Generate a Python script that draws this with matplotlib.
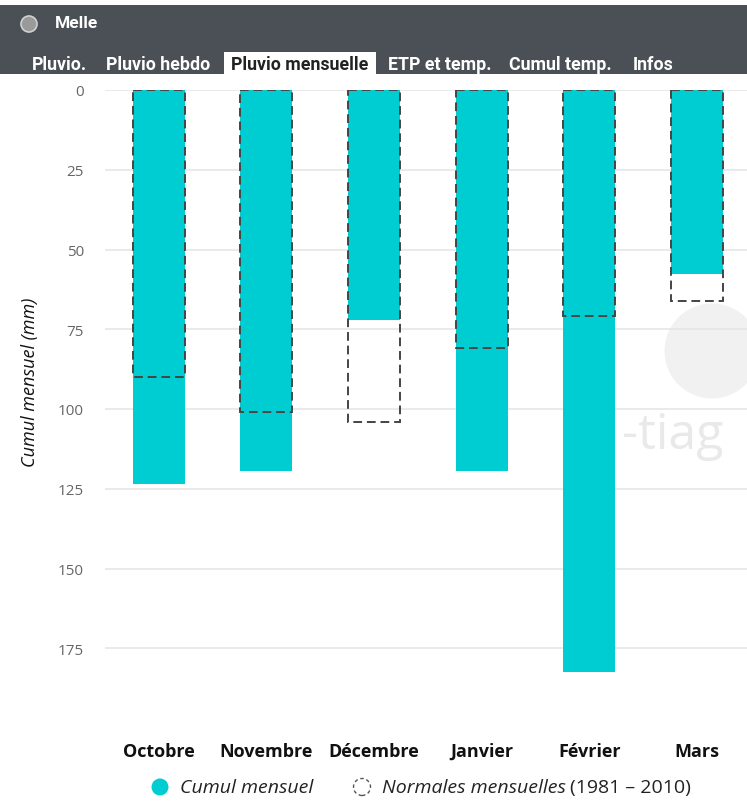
import matplotlib
matplotlib.use("Agg")
import matplotlib.pyplot as plt
from matplotlib.patches import Rectangle, Ellipse
from matplotlib import font_manager as fm

months = ["Octobre", "Novembre", "Décembre", "Janvier", "Février", "Mars"]
cumul = [123.5, 119.3, 72.0, 119.5, 182.5, 57.8]
normales = [90.0, 101.0, 104.0, 81.0, 71.0, 66.0]
yticks = [0, 25, 50, 75, 100, 125, 150, 175]
tabs = ["Pluvio.", "Pluvio hebdo", "Pluvio mensuelle", "ETP et temp.", "Cumul temp.", "Infos"]
tab_x = [32, 106, 231, 388, 509, 633]

W, H = 747, 803
fig = plt.figure(figsize=(W / 100, H / 100), dpi=100)
plt.rcParams['font.family'] = ['Open Sans', 'DejaVu Sans']

names = {f.name for f in fm.fontManager.ttflist}
cond = 'Liberation Sans Narrow' if 'Liberation Sans Narrow' in names else 'Roboto'

def fx(px):
    return px / W

def fy(py):
    return 1 - py / H

def pt(px):
    return px * 72 / 100

# header
fig.add_artist(Rectangle((0, fy(75)), 1, (75 - 6) / H, transform=fig.transFigure,
                         facecolor="#4b5056", edgecolor="none"))
fig.add_artist(Rectangle((fx(224), fy(76)), (376 - 224) / W, (76 - 53) / H,
                         transform=fig.transFigure, facecolor="white", edgecolor="none"))
fig.add_artist(Ellipse((fx(29), fy(25)), 16 / W, 16 / H, transform=fig.transFigure,
                       facecolor="#9a9a9a", edgecolor="#d0d0d0", lw=1.2))
fig.text(fx(55), fy(24), "Melle", color="white", fontsize=12.5, fontweight="bold",
         family=cond, va="center", ha="left")
for t, x in zip(tabs, tab_x):
    col = "#222222" if t == "Pluvio mensuelle" else "white"
    fig.text(fx(x), fy(65), t, color=col, fontsize=12.8, fontweight="bold",
             family=cond, va="center", ha="left")

# axes
x0, x1 = 105, 747
ytop = 91
ymax = 192
ybot = ytop + ymax * 3.19
ax = fig.add_axes([fx(x0), fy(ybot), (x1 - x0) / W, (ybot - ytop) / H])
ax.patch.set_alpha(0)
spacing = 107.6
right_lim = -0.5 + (x1 - x0) / spacing
ax.set_xlim(-0.5, right_lim)
ax.set_ylim(ymax, 0)

# watermark (behind the bars)
wm_axes = fig.add_axes([0, 0, 1, 1], zorder=-1)
wm_axes.set_xlim(0, W)
wm_axes.set_ylim(H, 0)
wm_axes.axis("off")
wm_axes.add_patch(Ellipse((712, 352), 95, 95, facecolor="#f1f1f1", edgecolor="none"))
wm_axes.text(622, 436, "-tiag", color="#e9e9e9", fontsize=36, va="center", ha="left")

xs = list(range(len(months)))
bw = 0.485
ax.bar(xs, cumul, width=bw, color="#00cdd2", zorder=2)
for x, n in zip(xs, normales):
    ax.add_patch(Rectangle((x - bw / 2, 0), bw, n, fill=False, edgecolor="#444444",
                           lw=1.4, linestyle=(0, (4.5, 2.5)), zorder=3))

ax.set_yticks(yticks)
ax.set_yticklabels([str(v) for v in yticks], color="#666666", fontsize=11)
ax.yaxis.grid(True, color="#e6e6e6", lw=1.2, zorder=0)
ax.set_axisbelow(True)
ax.tick_params(axis="y", length=0, pad=pt(21))
ax.set_xticks(xs)
ax.set_xticklabels(months, fontsize=13, fontweight="bold", color="#111111")
ax.tick_params(axis="x", length=0, pad=pt(743 - ybot))
for s in ax.spines.values():
    s.set_visible(False)

fig.text(fx(30), fy(382), "Cumul mensuel (mm)", rotation=90, style="italic",
         fontsize=13, color="#111111", va="center", ha="center")

# legend
fig.add_artist(Ellipse((fx(160), fy(788)), 17 / W, 17 / H, transform=fig.transFigure,
                       facecolor="#00cdd2", edgecolor="none"))
fig.text(fx(180), fy(788), "Cumul mensuel", style="italic", fontsize=14,
         color="#222222", va="center", ha="left")
fig.add_artist(Ellipse((fx(362), fy(788)), 17 / W, 17 / H, transform=fig.transFigure,
                       facecolor="none", edgecolor="#555555", lw=1.0,
                       linestyle=(0, (2.5, 2))))
t1 = fig.text(fx(382), fy(788), "Normales mensuelles", style="italic", fontsize=14,
              color="#222222", va="center", ha="left")
fig.canvas.draw()
bb = t1.get_window_extent()
fig.text(bb.x1 / W + 4 / W, fy(788), "(1981 – 2010)", fontsize=14,
         color="#222222", va="center", ha="left")

fig.savefig("out.png", dpi=100)
